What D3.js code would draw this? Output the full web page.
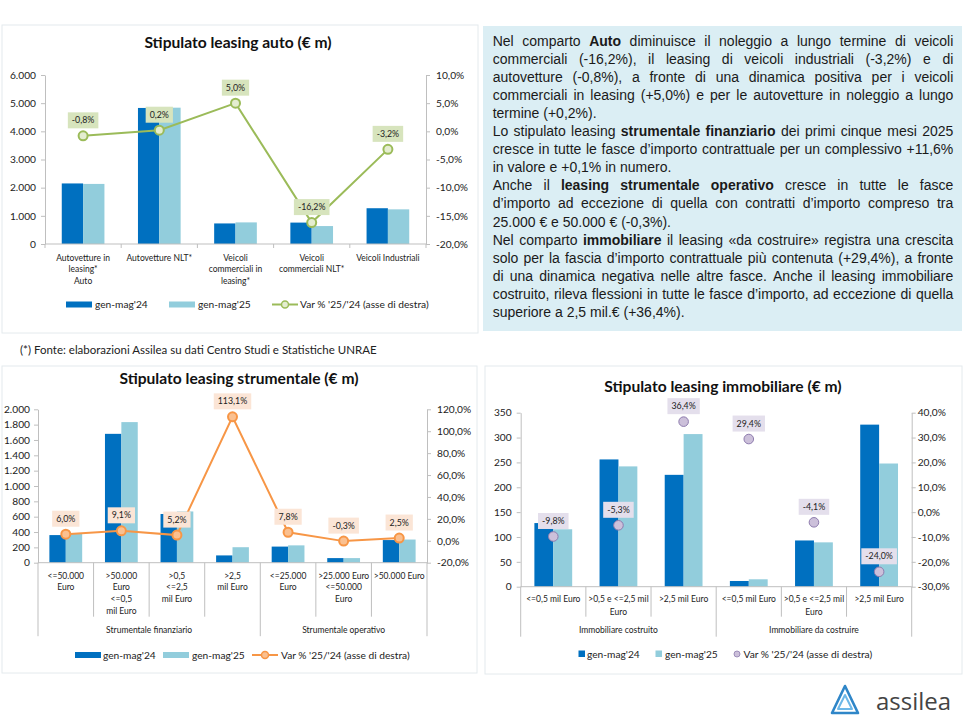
<!DOCTYPE html>
<html>
<head>
<meta charset="utf-8">
<script src="https://cdn.jsdelivr.net/npm/d3@7"></script>
<style>
  body { margin: 0; background: #fff; }
  svg { display: block; }
</style>
</head>
<body>
<script>
// ---- data: auto ----
var autoCategories = [["Autovetture in", "leasing*", "Auto"], ["Autovetture NLT*"], ["Veicoli", "commerciali in", "leasing*"], ["Veicoli", "commerciali NLT*"], ["Veicoli Industriali"]];
var autoGen24 = [2150, 4830, 730, 760, 1270];
var autoGen25 = [2133, 4840, 767, 637, 1230];
var autoVar = [-0.8, 0.2, 5.0, -16.2, -3.2];
var autoLeftTicks = [0, 1000, 2000, 3000, 4000, 5000, 6000];
var autoRightTicks = [-20, -15, -10, -5, 0, 5, 10];

// ---- data: strumentale ----
var strumCategories = [["<=50.000", "Euro"], [">50.000", "Euro", "<=0,5", "mil Euro"], [">0,5", "<=2,5", "mil Euro"], [">2,5", "mil Euro"], ["<=25.000", "Euro"], [">25.000 Euro", "<=50.000", "Euro"], [">50.000 Euro"]];
var strumGroups = ["Strumentale finanziario", "Strumentale operativo"];
var strumGroupEnds = [0, 4, 7];
var strumGen24 = [360, 1680, 635, 95, 210, 60, 295];
var strumGen25 = [382, 1833, 668, 202, 226, 60, 302];
var strumVar = [6.0, 9.1, 5.2, 113.1, 7.8, -0.3, 2.5];
var strumLeftTicks = [0, 200, 400, 600, 800, 1000, 1200, 1400, 1600, 1800, 2000];
var strumRightTicks = [-20, 0, 20, 40, 60, 80, 100, 120];

// ---- data: immobiliare ----
var immoCategories = [["<=0,5 mil Euro"], [">0,5 e <=2,5 mil", "Euro"], [">2,5 mil Euro"], ["<=0,5 mil Euro"], [">0,5 e <=2,5 mil", "Euro"], [">2,5 mil Euro"]];
var immoGroups = ["Immobiliare costruito", "Immobiliare da costruire"];
var immoGroupEnds = [0, 3, 6];
var immoGen24 = [128, 256, 225, 11.5, 93, 326];
var immoGen25 = [115.5, 242, 307, 14.9, 89.2, 247.8];
var immoVar = [-9.8, -5.3, 36.4, 29.4, -4.1, -24.0];
var immoLeftTicks = [0, 50, 100, 150, 200, 250, 300, 350];
var immoRightTicks = [-30, -20, -10, 0, 10, 20, 30, 40];

var legendLabels = ["gen-mag'24", "gen-mag'25", "Var % '25/'24 (asse di destra)"];

var panelLines = [
  "Nel comparto **Auto** diminuisce il noleggio a lungo termine di veicoli",
  "commerciali (-16,2%), il leasing di veicoli industriali (-3,2%) e di",
  "autovetture (-0,8%), a fronte di una dinamica positiva per i veicoli",
  "commerciali in leasing (+5,0%) e per le autovetture in noleggio a lungo",
  "termine (+0,2%).",
  "Lo stipulato leasing **strumentale finanziario** dei primi cinque mesi 2025",
  "cresce in tutte le fasce d’importo contrattuale per un complessivo +11,6%",
  "in valore e +0,1% in numero.",
  "Anche il **leasing strumentale operativo** cresce in tutte le fasce",
  "d’importo ad eccezione di quella con contratti d’importo compreso tra",
  "25.000 € e 50.000 €  (-0,3%).",
  "Nel comparto **immobiliare** il leasing «da costruire» registra una crescita",
  "solo per la fascia d’importo contrattuale più contenuta (+29,4%), a fronte",
  "di una dinamica negativa nelle altre fasce. Anche il leasing immobiliare",
  "costruito, rileva flessioni in tutte le fasce d’importo, ad eccezione di quella",
  "superiore a 2,5 mil.€ (+36,4%)."
];
var panelLastLines = [4, 7, 10, 15];

var DARK = "#0070c0", LIGHT = "#92cddc", AXIS = "#bfbfbf", INK = "#222";
var FONT = "Lato, 'Open Sans', sans-serif";
var ARIAL = "'Liberation Sans', Arial, sans-serif";

var it = d3.formatLocale({decimal: ",", thousands: ".", grouping: [3], currency: ["€", ""], minus: "-"});
var fmtInt = it.format(",.0f");
var fmt1 = it.format(",.1f");
var fmtPct = function(v) { return fmt1(v) + "%"; };

var svg = d3.select("body").append("svg")
            .attr("width", 964)
            .attr("height", 720);

function styleAxis(sel, size) {
  sel.attr("font-family", FONT).attr("font-size", size);
  sel.select(".domain").attr("stroke", AXIS);
  sel.selectAll(".tick line").attr("stroke", AXIS);
  sel.selectAll(".tick text").attr("fill", INK);
}

function drawChart(o) {
  var g = svg.append("g");
  g.append("rect")
    .attr("x", o.box[0]).attr("y", o.box[1])
    .attr("width", o.box[2]).attr("height", o.box[3])
    .attr("fill", "#fff").attr("stroke", "#e4eaed");

  g.append("text")
    .attr("x", o.titleX).attr("y", o.titleY)
    .attr("text-anchor", "middle")
    .attr("font-family", FONT).attr("font-weight", "bold").attr("font-size", 15.6)
    .attr("fill", "#111")
    .text(o.title);

  var n = o.cats.length;
  var x = d3.scaleBand().domain(d3.range(n)).range([o.x0, o.x1]);
  var y = d3.scaleLinear().domain([0, o.leftMax]).range([o.y0, o.y1]);
  var y2 = d3.scaleLinear().domain(o.rightDomain).range([o.y0, o.y1]);
  var bw = x.bandwidth() * o.barFrac;
  var mid = function(i) { return x(i) + x.bandwidth() / 2; };

  g.selectAll(".b24").data(o.a).enter()
    .append("rect").attr("class", "b24")
    .attr("x", function(d, i) { return mid(i) - bw; })
    .attr("y", function(d) { return y(d); })
    .attr("width", bw)
    .attr("height", function(d) { return o.y0 - y(d); })
    .attr("fill", DARK);

  g.selectAll(".b25").data(o.b).enter()
    .append("rect").attr("class", "b25")
    .attr("x", function(d, i) { return mid(i); })
    .attr("y", function(d) { return y(d); })
    .attr("width", bw)
    .attr("height", function(d) { return o.y0 - y(d); })
    .attr("fill", LIGHT);

  g.append("line")
    .attr("x1", o.x0).attr("x2", o.x1)
    .attr("y1", o.y0).attr("y2", o.y0)
    .attr("stroke", AXIS);

  var la = g.append("g").attr("transform", "translate(" + o.x0 + ",0)")
    .call(d3.axisLeft(y).tickValues(o.leftTicks).tickFormat(fmtInt).tickSize(4).tickSizeOuter(0).tickPadding(o.padL));
  styleAxis(la, o.tickSize);

  var ra = g.append("g").attr("transform", "translate(" + o.x1 + ",0)")
    .call(d3.axisRight(y2).tickValues(o.rightTicks).tickFormat(fmtPct).tickSize(4).tickSizeOuter(0).tickPadding(o.padR));
  styleAxis(ra, o.tickSize);

  // category separators
  g.selectAll(".sep").data(d3.range(n + 1)).enter()
    .append("line").attr("class", "sep")
    .attr("x1", function(k) { return k < n ? x(k) : o.x1; })
    .attr("x2", function(k) { return k < n ? x(k) : o.x1; })
    .attr("y1", o.y0)
    .attr("y2", function(k) { return o.y0 + (o.groupEnds && o.groupEnds.indexOf(k) >= 0 ? o.groupDrop : o.sepDrop); })
    .attr("stroke", AXIS);

  // category labels
  var cl = g.selectAll(".cat").data(o.cats).enter()
    .append("text").attr("class", "cat")
    .attr("text-anchor", "middle")
    .attr("font-family", FONT).attr("font-size", o.catSize)
    .attr("fill", INK);
  cl.each(function(lines, i) {
    var t = d3.select(this);
    lines.forEach(function(s, k) {
      t.append("tspan").attr("x", mid(i)).attr("y", o.catY + k * o.catLH).text(s);
    });
  });

  if (o.groups) {
    g.selectAll(".grp").data(o.groups).enter()
      .append("text").attr("class", "grp")
      .attr("x", function(d, k) {
        var a = x(o.groupEnds[k]);
        var b = o.groupEnds[k + 1] < n ? x(o.groupEnds[k + 1]) : o.x1;
        return (a + b) / 2;
      })
      .attr("y", o.groupY)
      .attr("text-anchor", "middle")
      .attr("font-family", FONT).attr("font-size", o.catSize)
      .attr("fill", INK)
      .text(function(d) { return d; });
  }

  if (o.line) {
    g.append("path")
      .datum(o.pct)
      .attr("d", d3.line().x(function(d, i) { return mid(i); }).y(function(d) { return y2(d); }))
      .attr("fill", "none")
      .attr("stroke", o.pctColor)
      .attr("stroke-width", 2);
  }

  g.selectAll(".pt").data(o.pct).enter()
    .append("circle").attr("class", "pt")
    .attr("cx", function(d, i) { return mid(i); })
    .attr("cy", function(d) { return y2(d); })
    .attr("r", o.markR)
    .attr("fill", o.markFill)
    .attr("stroke", o.pctColor)
    .attr("stroke-width", o.markStroke);

  // data labels
  o.pct.forEach(function(v, i) {
    var cy = y2(v) - 15.5;
    var lg = g.append("g");
    var t = lg.append("text")
      .attr("x", mid(i)).attr("y", cy + 3)
      .attr("text-anchor", "middle")
      .attr("font-family", FONT).attr("font-size", 8.8)
      .attr("fill", INK)
      .text(fmtPct(v));
    var bb = t.node().getBBox();
    lg.insert("rect", "text")
      .attr("x", bb.x - 4).attr("y", cy - 8)
      .attr("width", bb.width + 8).attr("height", 16)
      .attr("fill", o.boxFill);
  });

  // legend
  o.legend.forEach(function(it, k) {
    if (it.type == "bar") {
      g.append("rect").attr("x", it.x).attr("y", o.legendY - 3).attr("width", 26).attr("height", 6).attr("fill", it.color);
    } else if (it.type == "sq") {
      g.append("rect").attr("x", it.x).attr("y", o.legendY - 3.5).attr("width", 6.5).attr("height", 6.5).attr("fill", it.color);
    } else if (it.type == "line") {
      g.append("line").attr("x1", it.x).attr("x2", it.x + 26).attr("y1", o.legendY).attr("y2", o.legendY)
        .attr("stroke", o.pctColor).attr("stroke-width", 2);
      g.append("circle").attr("cx", it.x + 13).attr("cy", o.legendY).attr("r", 3.5)
        .attr("fill", o.markFill).attr("stroke", o.pctColor).attr("stroke-width", 1.5);
    } else {
      g.append("circle").attr("cx", it.x + 3).attr("cy", o.legendY).attr("r", 3)
        .attr("fill", o.markFill).attr("stroke", o.pctColor).attr("stroke-width", 0.8);
    }
    g.append("text")
      .attr("x", it.tx).attr("y", o.legendY + 3.5)
      .attr("font-family", FONT).attr("font-size", 10.2)
      .attr("fill", INK)
      .text(legendLabels[k]);
  });
}

drawChart({
  box: [2, 25, 476, 308], title: "Stipulato leasing auto (€ m)", titleX: 238, titleY: 48,
  cats: autoCategories, a: autoGen24, b: autoGen25, pct: autoVar,
  x0: 45, x1: 426, y0: 244, y1: 75,
  leftMax: 6000, leftTicks: autoLeftTicks, rightDomain: [-20, 10], rightTicks: autoRightTicks,
  padL: 5, padR: 6, tickSize: 10.2, barFrac: 0.28,
  catY: 260.5, catLH: 11.5, catSize: 8.5, sepDrop: 4,
  line: true, pctColor: "#9bbb59", markFill: "#e4edd0", markR: 4.5, markStroke: 2, boxFill: "#d7e4bd",
  legendY: 304.5,
  legend: [{type: "bar", x: 66, tx: 95, color: DARK}, {type: "bar", x: 169, tx: 198, color: LIGHT}, {type: "line", x: 272, tx: 300}]
});

drawChart({
  box: [2, 366, 475, 307], title: "Stipulato leasing strumentale (€ m)", titleX: 239, titleY: 383.8,
  cats: strumCategories, a: strumGen24, b: strumGen25, pct: strumVar,
  groups: strumGroups, groupEnds: strumGroupEnds,
  x0: 38, x1: 427, y0: 562.7, y1: 409.3,
  leftMax: 2000, leftTicks: strumLeftTicks, rightDomain: [-20, 120], rightTicks: strumRightTicks,
  padL: 4, padR: 6, tickSize: 10.2, barFrac: 0.295,
  catY: 578.7, catLH: 11.7, catSize: 8.5, sepDrop: 54, groupDrop: 73.5, groupY: 633,
  line: true, pctColor: "#f79646", markFill: "#fac090", markR: 4.5, markStroke: 2, boxFill: "#fbe5d6",
  legendY: 655,
  legend: [{type: "bar", x: 75, tx: 103, color: DARK}, {type: "bar", x: 163, tx: 192, color: LIGHT}, {type: "line", x: 252, tx: 281}]
});

drawChart({
  box: [485, 366, 477, 308], title: "Stipulato leasing immobiliare (€ m)", titleX: 723, titleY: 392,
  cats: immoCategories, a: immoGen24, b: immoGen25, pct: immoVar,
  groups: immoGroups, groupEnds: immoGroupEnds,
  x0: 520.7, x1: 911.7, y0: 586.7, y1: 412.7,
  leftMax: 350, leftTicks: immoLeftTicks, rightDomain: [-30, 40], rightTicks: immoRightTicks,
  padL: 5, padR: 2, tickSize: 10.2, barFrac: 0.29,
  catY: 602.3, catLH: 12.3, catSize: 8.5, sepDrop: 30, groupDrop: 50, groupY: 633,
  line: false, pctColor: "#8e7cae", markFill: "#ccc0da", markR: 4.8, markStroke: 1, boxFill: "#e4dfec",
  legendY: 654,
  legend: [{type: "sq", x: 578.5, tx: 587, color: DARK}, {type: "sq", x: 655.5, tx: 665, color: LIGHT}, {type: "dot", x: 734, tx: 743.5}]
});

// ---- commentary panel ----
svg.append("rect")
  .attr("x", 483).attr("y", 26)
  .attr("width", 479).attr("height", 305)
  .attr("fill", "#dbeef4");

var panelX = 492.7, panelW = 460.6, panelSize = 14, panelTop = 46, panelLH = 18.05;
var probe = svg.append("text").attr("font-family", ARIAL).attr("font-size", panelSize);

panelLines.forEach(function(line, li) {
  var words = [];
  line.split("**").forEach(function(seg, k) {
    seg.split(" ").forEach(function(w) {
      if (w.length) words.push({t: w, b: k % 2 == 1});
    });
  });
  words.forEach(function(w) {
    probe.attr("font-weight", w.b ? "bold" : "normal").text(w.t);
    w.w = probe.node().getComputedTextLength();
  });
  var total = d3.sum(words, function(w) { return w.w; });
  var last = panelLastLines.indexOf(li) >= 0;
  var gap = last ? panelSize * 0.278 : (panelW - total) / (words.length - 1);
  var cx = panelX;
  words.forEach(function(w) {
    svg.append("text")
      .attr("x", cx).attr("y", panelTop + li * panelLH)
      .attr("font-family", ARIAL).attr("font-size", panelSize)
      .attr("font-weight", w.b ? "bold" : "normal")
      .attr("fill", "#1a1a1a")
      .text(w.t);
    cx += w.w + gap;
  });
});
probe.remove();

// ---- footnote ----
svg.append("text")
  .attr("x", 20).attr("y", 353.5)
  .attr("font-family", FONT).attr("font-size", 11.5)
  .attr("fill", INK)
  .text("(*) Fonte: elaborazioni Assilea su dati Centro Studi e Statistiche UNRAE");

// ---- logo ----
var logo = svg.append("g");
logo.append("path")
  .attr("d", "M845,686 L858,713 L832,713 Z")
  .attr("fill", "none").attr("stroke", "#2f86c8").attr("stroke-width", 2.6).attr("stroke-linejoin", "round");
logo.append("path")
  .attr("d", "M845,695 L852,709 L838,709 Z")
  .attr("fill", "none").attr("stroke", "#6db8e8").attr("stroke-width", 2).attr("stroke-linejoin", "round");
logo.append("text")
  .attr("x", 876).attr("y", 709.5)
  .attr("font-family", "'Open Sans', sans-serif").attr("font-size", 24)
  .attr("fill", "#444")
  .text("assilea");
</script>
</body>
</html>
